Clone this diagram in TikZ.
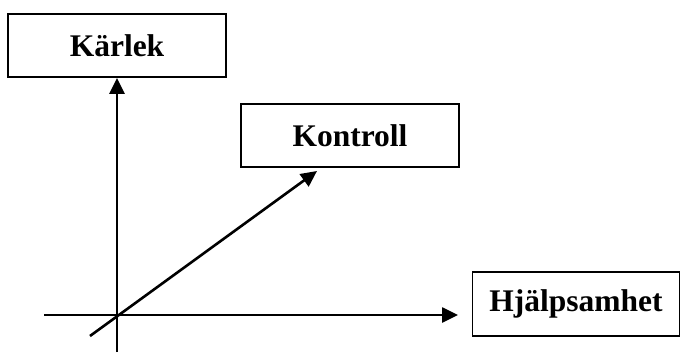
\documentclass[tikz,border=0pt]{standalone}
\usepackage{fontspec}
\setmainfont{Liberation Serif}
\usetikzlibrary{arrows.meta}
\begin{document}
\begin{tikzpicture}[x=1pt,y=-1pt,
  labelbox/.style={draw,line width=1.8pt,inner sep=0pt,font=\fontsize{31.5}{36}\selectfont\bfseries},
  axis/.style={line width=2.6pt,-{Triangle[length=16pt,width=15pt]}},
  plain/.style={line width=2.6pt}]
\useasboundingbox (0,0) rectangle (681,353);
\node[labelbox,minimum width=218pt,minimum height=63pt] (karlek) at (117,45.5) {Kärlek};
\node[labelbox,minimum width=218pt,minimum height=63pt] (kontroll) at (350,135.5) {Kontroll};
\node[labelbox,minimum width=207pt,minimum height=64pt] (hjalp) at (576,304) {Hjälpsamhet};
\coordinate (vbot) at (117,352);
\coordinate (hleft) at (44,315);
\coordinate (hright) at (458,315);
\coordinate (dstart) at (90,336);
\coordinate (dend) at (317,171);
\draw[axis] (vbot) -- (karlek.south);
\draw[axis] (hleft) -- (hright);
\draw[axis] (dstart) -- (dend);
\end{tikzpicture}
\end{document}
